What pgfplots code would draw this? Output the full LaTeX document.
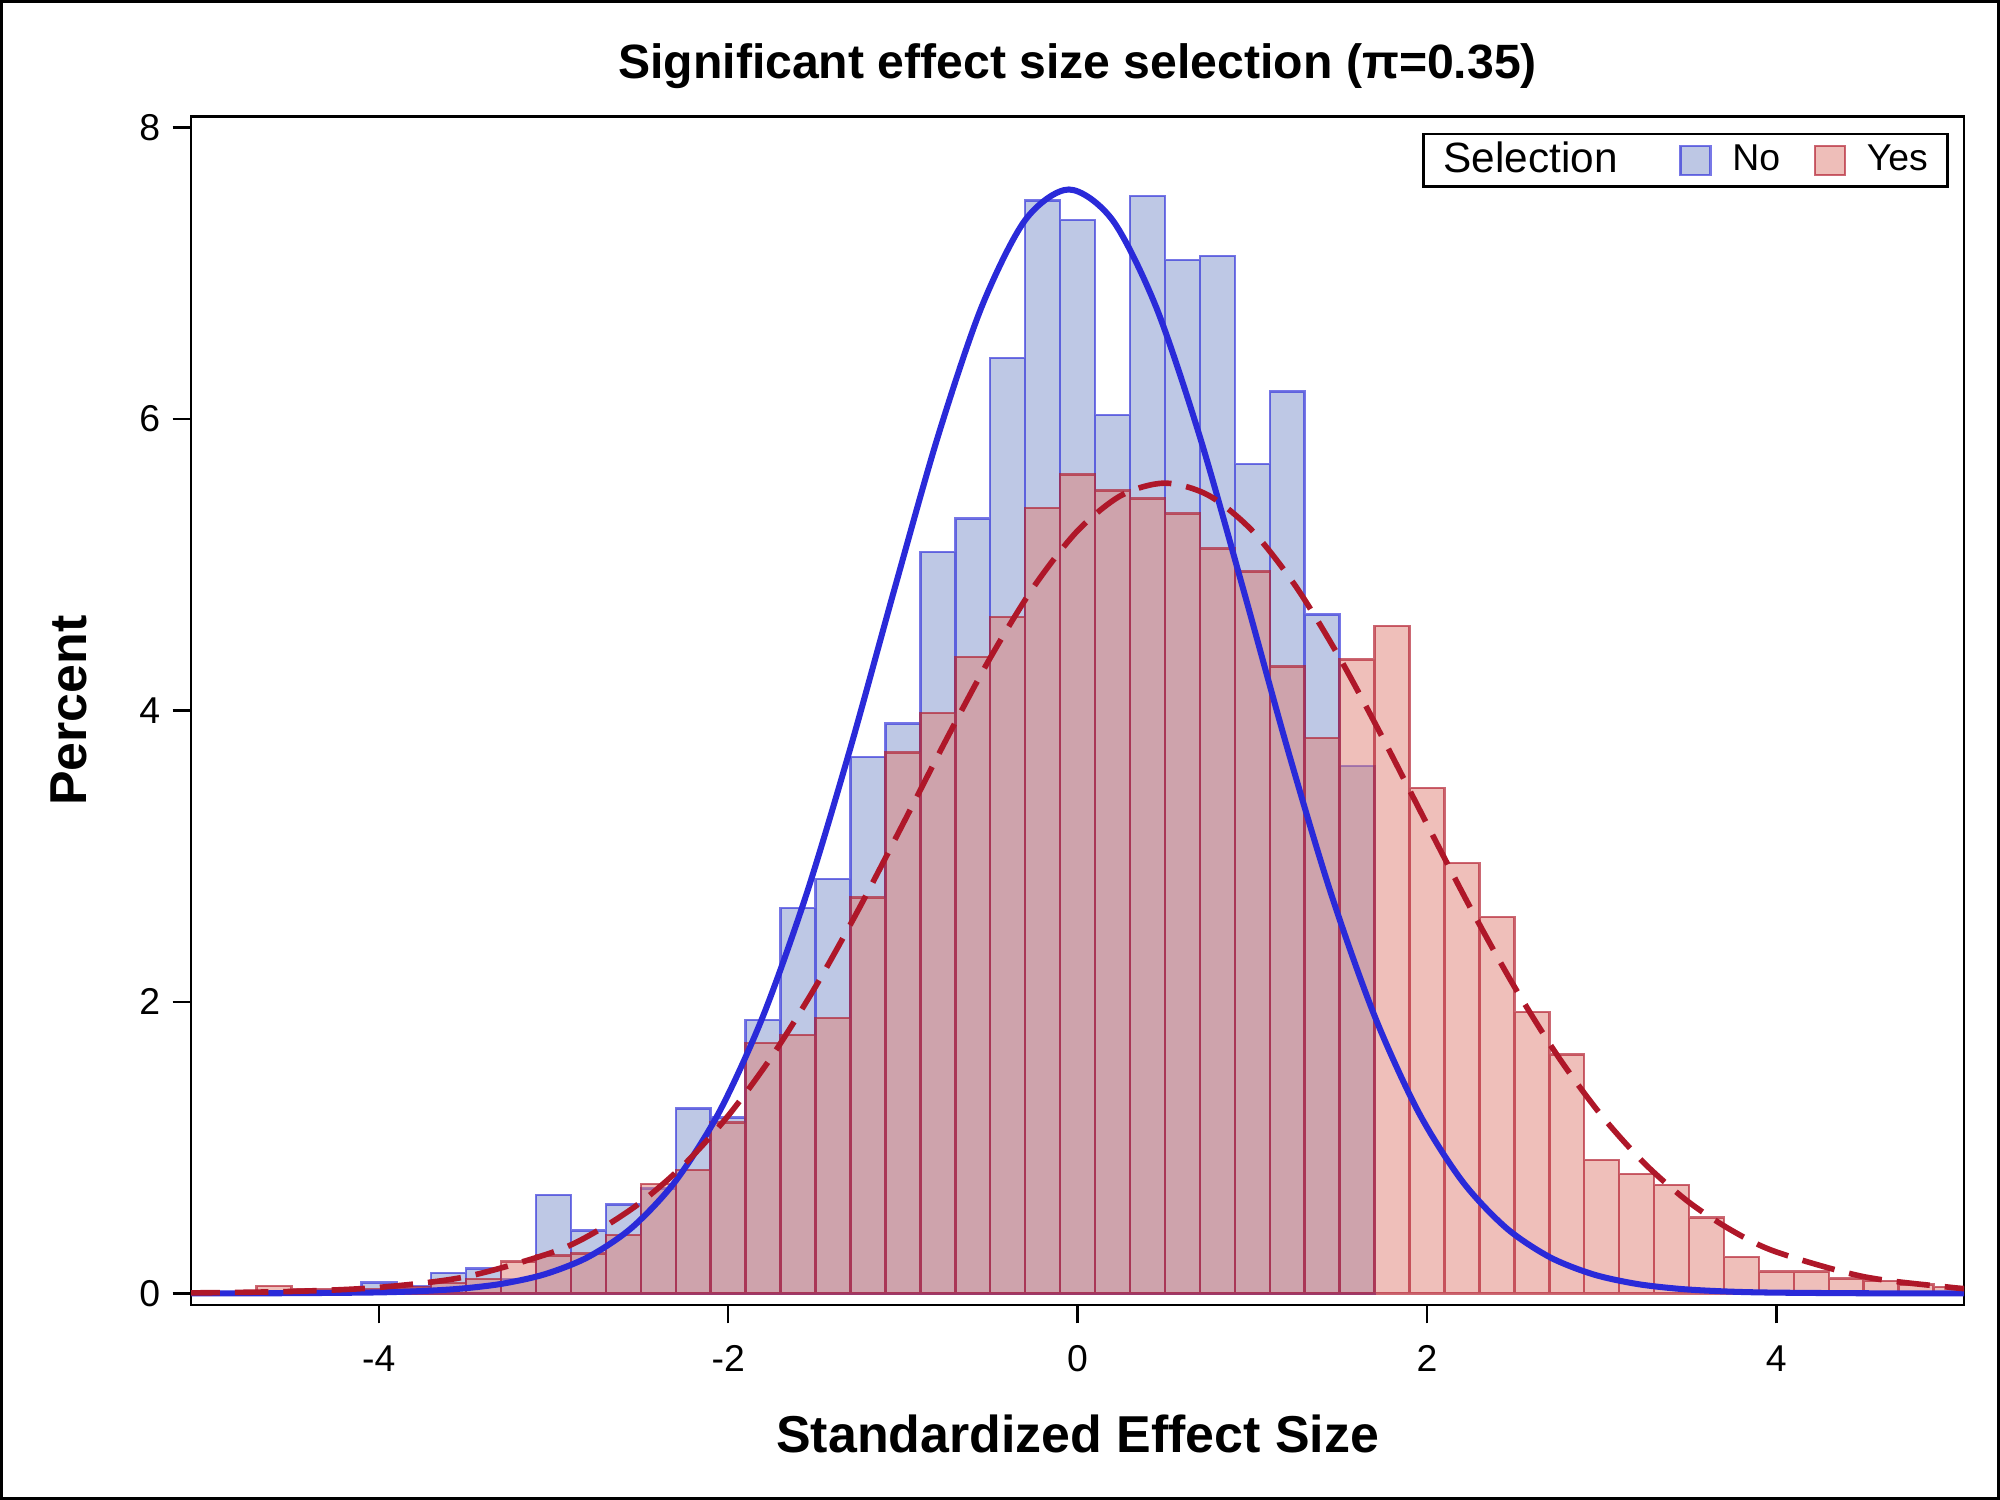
\documentclass[border=0pt]{standalone}
\usepackage{fontspec}
\setmainfont{Liberation Sans}
\usepackage{pgfplots}
\usepackage{pgfplotstable}
\pgfplotsset{compat=1.18}
\definecolor{nofill}{RGB}{125,145,203}
\definecolor{nodraw}{RGB}{30,30,215}
\definecolor{yesfill}{RGB}{223,127,117}
\definecolor{yesdraw}{RGB}{176,24,42}
\definecolor{nocurve}{RGB}{42,42,217}
\definecolor{yescurve}{RGB}{175,23,41}
\pgfplotsset{swatch legend/.style={legend image code/.code={\draw[##1] (0bp,-3.5bp) rectangle (7.2bp,3.5bp);}}}

\pgfplotstableread{
c h
-4.0 0.074
-3.8 0.05
-3.6 0.14
-3.4 0.17
-3.2 0.10
-3.0 0.675
-2.8 0.43
-2.6 0.61
-2.4 0.72
-2.2 1.27
-2.0 1.206
-1.8 1.877
-1.6 2.644
-1.4 2.845
-1.2 3.68
-1.0 3.909
-0.8 5.088
-0.6 5.316
-0.4 6.42
-0.2 7.50
0.0 7.365
0.2 6.026
0.4 7.53
0.6 7.09
0.8 7.12
1.0 5.69
1.2 6.19
1.4 4.66
1.6 3.62
}\nobars

\pgfplotstableread{
c h
-4.6 0.05
-4.4 0.03
-4.2 0.03
-4.0 0.03
-3.8 0.04
-3.6 0.07
-3.4 0.10
-3.2 0.22
-3.0 0.26
-2.8 0.275
-2.6 0.40
-2.4 0.75
-2.2 0.847
-2.0 1.172
-1.8 1.717
-1.6 1.774
-1.4 1.889
-1.2 2.715
-1.0 3.712
-0.8 3.982
-0.6 4.367
-0.4 4.641
-0.2 5.39
0.0 5.62
0.2 5.51
0.4 5.454
0.6 5.35
0.8 5.11
1.0 4.955
1.2 4.30
1.4 3.81
1.6 4.35
1.8 4.58
2.0 3.468
2.2 2.953
2.4 2.582
2.6 1.93
2.8 1.64
3.0 0.916
3.2 0.82
3.4 0.744
3.6 0.52
3.8 0.248
4.0 0.149
4.2 0.149
4.4 0.103
4.6 0.085
4.8 0.062
5.0 0.045
}\yesbars

\pgfplotstableread{
x y
-5.15 0.0
-5.05 0.0001
-4.55 0.0008
-4.05 0.0056
-3.80 0.0134
-3.55 0.0302
-3.30 0.0647
-3.05 0.1309
-2.80 0.2502
-2.55 0.4524
-2.30 0.7726
-2.05 1.247
-1.80 1.904
-1.55 2.746
-1.30 3.744
-1.05 4.825
-0.80 5.878
-0.55 6.767
-0.30 7.365
-0.05 7.575
0.20 7.365
0.45 6.767
0.70 5.878
0.95 4.825
1.20 3.744
1.45 2.746
1.70 1.904
1.95 1.247
2.20 0.7726
2.45 0.4524
2.70 0.2502
2.95 0.1309
3.20 0.0647
3.45 0.0302
3.70 0.0134
3.95 0.0056
4.45 0.0008
4.95 0.0001
5.15 0.0
}\nocurvetab

\pgfplotstableread{
x y
-5.1 0.0027
-4.5 0.0129
-4.0 0.0407
-3.5 0.1143
-3.0 0.284
-2.75 0.428
-2.5 0.625
-2.25 0.886
-2.0 1.219
-1.75 1.626
-1.5 2.105
-1.25 2.643
-1.0 3.220
-0.75 3.804
-0.5 4.361
-0.25 4.850
0.0 5.233
0.25 5.476
0.5 5.56
0.75 5.476
1.0 5.233
1.25 4.850
1.5 4.361
1.75 3.804
2.0 3.220
2.25 2.643
2.5 2.105
2.75 1.626
3.0 1.219
3.25 0.886
3.5 0.625
3.75 0.428
4.0 0.284
4.5 0.1143
5.0 0.0407
5.1 0.0326
}\yescurvetab

\begin{document}
\begin{tikzpicture}
\begin{axis}[
  at={(45.84bp,46.8bp)}, anchor=south west,
  scale only axis, width=425.56bp, height=285.24bp,
  xmin=-5.075, xmax=5.075, ymin=-0.08, ymax=8.076,
  axis line style={line width=0.6bp},
  tick pos=left, tick align=outside, major tick length=4.4bp,
  every tick/.style={black, line width=0.6bp},
  xtick={-4,-2,0,2,4}, xticklabels={-4,-2,0,2,4},
  ytick={0,2,4,6,8}, yticklabels={0,2,4,6,8},
  ticklabel style={font=\fontsize{9}{11}\selectfont},
  xticklabel style={yshift=-1.8bp},
  yticklabel style={xshift=0.5bp},
  title={Significant effect size selection (π=0.35)},
  every axis title/.style={at={([yshift=9bp]axis description cs:0.5,1)}, anchor=base, font=\bfseries\fontsize{11.6}{14}\selectfont},
  xlabel={Standardized Effect Size},
  every axis x label/.style={at={([yshift=-35.5bp]axis description cs:0.5,0)}, anchor=base, font=\bfseries\fontsize{12.5}{15}\selectfont},
  ylabel={Percent},
  every axis y label/.style={at={([xshift=-25bp]axis description cs:0,0.5)}, rotate=90, anchor=base, font=\bfseries\fontsize{12.5}{15}\selectfont},
  legend columns=-1,
  legend cell align=left,
  legend style={at={([xshift=-3.6bp,yshift=-3.9bp]axis description cs:1,1)}, anchor=north east,
    draw=black, line width=0.65bp, inner xsep=4.3bp, inner ysep=1.4bp,
    font=\fontsize{9}{11}\selectfont,
    nodes={inner sep=0.5bp},
    /tikz/column 2/.style={column sep=14.2bp},
    /tikz/column 3/.style={column sep=4.5bp},
    /tikz/column 4/.style={column sep=7.5bp},
    /tikz/column 5/.style={column sep=4.5bp}},
]
\addlegendimage{empty legend}
\addlegendentry{\fontsize{10.2}{12}\selectfont Selection}

\addplot[ybar, bar width=0.2, bar shift=0pt, fill=nofill, fill opacity=0.5,
  draw=nodraw, draw opacity=0.6, line width=0.6bp, swatch legend]
  table[x=c, y=h] {\nobars};
\addlegendentry{No}

\addplot[ybar, bar width=0.2, bar shift=0pt, fill=yesfill, fill opacity=0.5,
  draw=yesdraw, draw opacity=0.65, line width=0.6bp, swatch legend]
  table[x=c, y=h] {\yesbars};
\addlegendentry{Yes}

\addplot[forget plot, smooth, no markers, color=nocurve, line width=1.45bp]
  table[x=x, y=y] {\nocurvetab};
\addplot[forget plot, smooth, no markers, color=yescurve, line width=1.35bp,
  dash pattern=on 8bp off 3.6bp]
  table[x=x, y=y] {\yescurvetab};
\end{axis}
\draw[black, line width=0.72bp] (0.36bp,0.36bp) rectangle (479.64bp,359.64bp);
\end{tikzpicture}
\end{document}
